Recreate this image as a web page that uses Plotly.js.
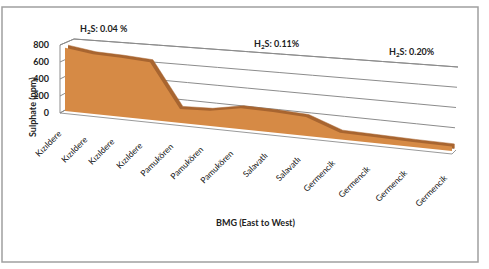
<!DOCTYPE html>
<html><head><meta charset="utf-8">
<script src="https://cdn.plot.ly/plotly-3.0.1.min.js"></script>
<style>html,body{margin:0;padding:0;background:#fff;overflow:hidden}#chart{width:489px;height:269px}</style>
</head><body><div id="chart"></div>
<script>
// ---------------- data ----------------
const categories = ['Kızıldere','Kızıldere','Kızıldere','Kızıldere','Pamukören','Pamukören','Pamukören','Salavatlı','Salavatlı','Germencik','Germencik','Germencik','Germencik'];
const sulphate = [780, 720, 700, 670, 160, 170, 230, 220, 200, 70, 60, 50, 45];
const yTicks = [0, 200, 400, 600, 800];
const yTitle = 'Sulphate (ppm)';
const xTitle = 'BMG (East to West)';
const h2sLabels = ['H<sub>2</sub>S: 0.04 %', 'H<sub>2</sub>S: 0.11%', 'H<sub>2</sub>S: 0.20%'];

// ---------------- 3D projection geometry (pixel space) ----------------
const W = 489, H = 269;
const catX = [65, 93, 121, 150, 180, 210, 241, 273, 306, 340, 376, 413, 452];
const labX = [67, 93, 120, 148, 178, 208, 238, 272, 305, 340, 375, 412, 452];
const labY = [125, 131, 133, 137, 139, 142, 146, 148, 152, 155, 161, 165, 170];
const h2sPos = [[78, 29], [252, 44], [387, 52]];
const FONT = 'Lato, "Open Sans", sans-serif';
const idx = categories.map((_, i) => i);
const n = catX.length;
const tPos = catX.map(x => (x - catX[0]) / (catX[n - 1] - catX[0]));

function plane(c, bvals) {
  const xs = [], ys = [];
  bvals.forEach(b => {
    const f = b / 800;
    const L = [c.bl[0] + f * (c.tl[0] - c.bl[0]), c.bl[1] + f * (c.tl[1] - c.bl[1])];
    const R = [c.br[0] + f * (c.tr[0] - c.br[0]), c.br[1] + f * (c.tr[1] - c.br[1])];
    xs.push(tPos.map(s => L[0] + s * (R[0] - L[0])));
    ys.push(tPos.map(s => L[1] + s * (R[1] - L[1])));
  });
  return {xs, ys};
}
// back wall (gridlines) with side wall front edge column prepended
const wallCorners = {bl: [74, 105], br: [454, 148], tl: [74, 39], tr: [458, 67]};
const sideFront = {x: 60, y0: 113, y800: 45};
const wallP = plane(wallCorners, yTicks);
const wallX = wallP.xs.map(r => [sideFront.x].concat(r));
const wallY = wallP.ys.map((r, j) => [sideFront.y0 + (yTicks[j] / 800) * (sideFront.y800 - sideFront.y0)].concat(r));
const wallA = [-1].concat(idx);
// front face of the area and its back face
const frontP = plane({bl: [65, 111], br: [452, 151], tl: [65, 46], tr: [452, 69]}, [0, 800]);
const backP = plane({bl: [68, 108.5], br: [454.5, 148.5], tl: [68, 43.5], tr: [454.5, 66.5]}, [0, 800]);

const hiddenAxis = {showgrid: false, startline: false, endline: false, showline: false, showticklabels: 'none', smoothing: 0, tickmode: 'array', tickvals: []};
const gridCol = '#8c8c8c';

const traces = [
  {type: 'carpet', carpet: 'wall', a: wallA, b: yTicks, x: wallX, y: wallY, hoverinfo: 'skip',
   aaxis: {showgrid: false, startline: true, endline: false, startlinecolor: gridCol, startlinewidth: 1, showticklabels: 'none', smoothing: 0, tickmode: 'array', tickvals: []},
   baxis: {showgrid: true, gridcolor: gridCol, gridwidth: 1, startline: true, endline: true, startlinecolor: gridCol, endlinecolor: gridCol, startlinewidth: 1, endlinewidth: 1, showticklabels: 'none', smoothing: 0, tickmode: 'array', tickvals: yTicks}},
  {type: 'carpet', carpet: 'back', a: idx, b: [0, 800], x: backP.xs, y: backP.ys, aaxis: hiddenAxis, baxis: hiddenAxis, hoverinfo: 'skip'},
  {type: 'carpet', carpet: 'front', a: idx, b: [0, 800], x: frontP.xs, y: frontP.ys, aaxis: hiddenAxis, baxis: hiddenAxis, hoverinfo: 'skip'},
  {type: 'scattercarpet', carpet: 'back', a: idx.concat([n - 1, 0]), b: sulphate.concat([0, 0]), mode: 'lines', fill: 'toself',
   fillcolor: '#a86530', line: {width: 0.5, color: '#a86530'}, hoverinfo: 'skip', showlegend: false},
  {type: 'scattercarpet', carpet: 'front', a: idx.concat([n - 1, 0]), b: sulphate.concat([0, 0]), mode: 'lines', fill: 'toself',
   fillcolor: '#d68a45', line: {width: 0, color: '#d68a45'}, hoverinfo: 'skip', showlegend: false},
  {type: 'scatter', x: [null], y: [null], xaxis: 'x2', yaxis: 'y2', hoverinfo: 'skip', showlegend: false}
];

const annotations = [];
categories.forEach((c, i) => annotations.push({
  text: c, x: labX[i], y: labY[i], xref: 'x', yref: 'y', xanchor: 'right', yanchor: 'top', textangle: -45,
  showarrow: false, font: {family: FONT, size: 8.5, color: '#111'}
}));
h2sLabels.forEach((t, i) => annotations.push({
  text: t, x: h2sPos[i][0], y: h2sPos[i][1], xref: 'x', yref: 'y', xanchor: 'left', yanchor: 'middle',
  showarrow: false, font: {family: FONT, size: 9, color: '#222', weight: 'bold'}
}));
annotations.push({text: xTitle, x: 255, y: 222, xref: 'x', yref: 'y', xanchor: 'center', yanchor: 'middle', showarrow: false,
  font: {family: FONT, size: 9, color: '#222', weight: 'bold'}});
annotations.push({text: yTitle, x: 32, y: 107, xref: 'x', yref: 'y', xanchor: 'center', yanchor: 'middle', textangle: -90, showarrow: false,
  font: {family: FONT, size: 9, color: '#222', weight: 'bold'}});

const layout = {
  width: W, height: H, margin: {l: 0, r: 0, t: 0, b: 0, pad: 0},
  paper_bgcolor: '#ffffff', plot_bgcolor: 'rgba(0,0,0,0)', showlegend: false,
  xaxis: {range: [0, W], visible: false, fixedrange: true, domain: [0, 1]},
  yaxis: {range: [H, 0], visible: false, fixedrange: true, domain: [0, 1]},
  xaxis2: {domain: [sideFront.x / W, 1], anchor: 'y2', visible: false, range: [0, 1], fixedrange: true},
  yaxis2: {domain: [1 - sideFront.y0 / H, 1 - sideFront.y800 / H], anchor: 'x2', range: [0, 800], tickvals: yTicks,
    ticks: '', showgrid: false, zeroline: false, showline: false, ticklabelstandoff: 10, fixedrange: true,
    tickfont: {family: FONT, size: 9, color: '#222', weight: 'bold'}},
  shapes: [
    {type: 'rect', xref: 'x', yref: 'y', x0: 2, y0: 7, x1: 478, y1: 262, line: {color: '#a0a0a0', width: 1.5}, layer: 'above'},
    {type: 'path', xref: 'x', yref: 'y', path: 'M60,113 L452,154 L456,150', line: {color: '#9a9a9a', width: 1}, layer: 'below'}
  ],
  annotations: annotations
};
Plotly.newPlot('chart', traces, layout, {staticPlot: true, displayModeBar: false});
</script></body></html>
